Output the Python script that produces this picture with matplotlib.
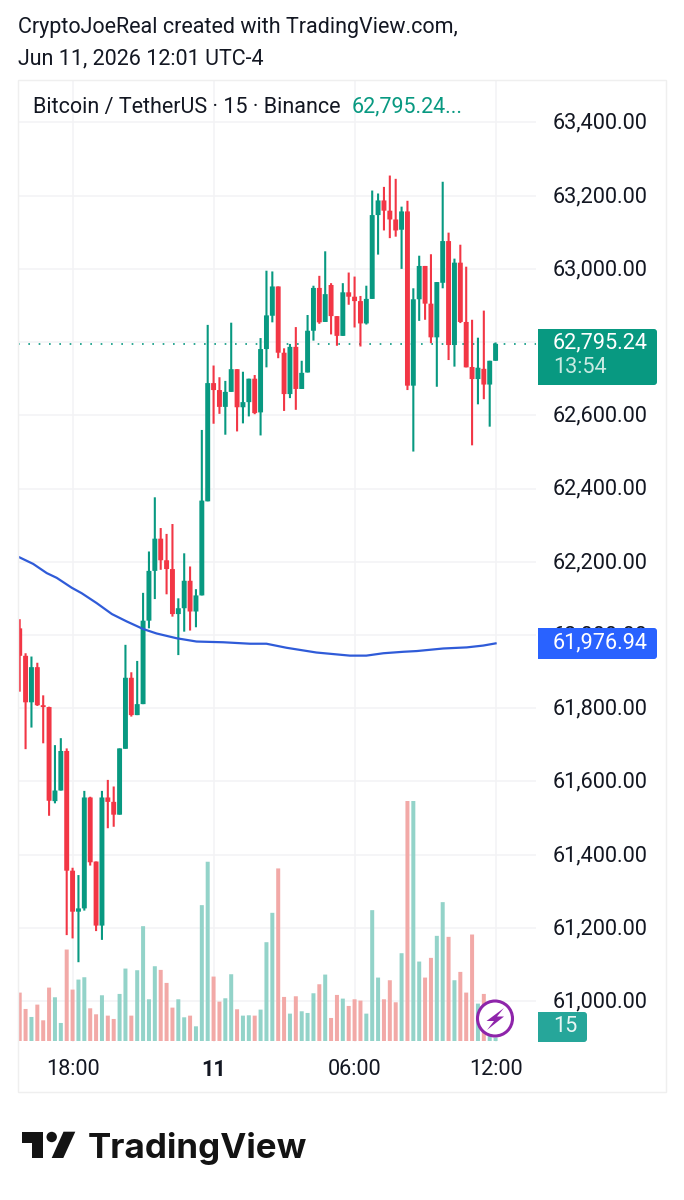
import matplotlib
matplotlib.use("Agg")
import matplotlib.pyplot as plt
from matplotlib.patches import Circle, FancyBboxPatch, Polygon, Rectangle
from matplotlib.transforms import ScaledTranslation

#%% Data (BTCUSDT 15 min)

opens = [62018, 61943, 61816, 61912, 61808, 61803, 61546, 61575, 61683, 61356,
         61244, 61253, 61556, 61381, 61206, 61556, 61544, 61509, 61689, 61883,
         61781, 61811, 62039, 62175, 62263, 62204, 62180, 62057, 62073, 62148,
         62064, 62108, 62365, 62688, 62669, 62623, 62664, 62726, 62622, 62636,
         62700, 62608, 62781, 62872, 62952, 62771, 62658, 62787, 62672, 62717,
         62831, 62948, 62855, 62956, 62871, 62817, 62936, 62924, 62912, 62851,
         62918, 63147, 63187, 63159, 63135, 63107, 63157, 62681, 62917, 63008,
         62905, 62813, 62962, 63076, 62792, 63017, 62855, 62732, 62699, 62727,
         62684, 62749]
highs = [62043, 61950, 61941, 61924, 61835, 61804, 61699, 61718, 61690, 61364,
         61344, 61574, 61558, 61381, 61574, 61604, 61586, 61690, 61973, 61898,
         61929, 62115, 62228, 62376, 62292, 62276, 62303, 62100, 62223, 62187,
         62125, 62560, 62847, 62736, 62704, 62694, 62853, 62726, 62719, 62700,
         62710, 62811, 62995, 62993, 62952, 62783, 62795, 62841, 62749, 62874,
         62954, 62981, 63048, 62961, 62871, 62961, 62990, 62979, 62926, 62954,
         63214, 63206, 63224, 63255, 63246, 63170, 63186, 62947, 63036, 63008,
         63040, 62964, 63238, 63099, 63028, 63066, 63006, 62861, 62812, 62886,
         62749, 62799]
lows = [61845, 61688, 61747, 61806, 61704, 61506, 61540, 61575, 61180, 61171,
        61106, 61247, 61370, 61191, 61167, 61472, 61476, 61509, 61689, 61777,
        61781, 61811, 62018, 62098, 62178, 62111, 62050, 61945, 62009, 62012,
        62021, 62108, 62365, 62577, 62604, 62547, 62664, 62556, 62578, 62597,
        62603, 62545, 62731, 62854, 62756, 62612, 62647, 62615, 62672, 62717,
        62804, 62850, 62855, 62821, 62790, 62817, 62902, 62840, 62788, 62848,
        62918, 63039, 63105, 63084, 63088, 63000, 62669, 62501, 62858, 62861,
        62797, 62678, 62947, 62751, 62733, 62852, 62731, 62518, 62630, 62644,
        62569, 62749]
closes = [61943, 61816, 61912, 61808, 61803, 61547, 61575, 61683, 61356, 61244,
          61253, 61556, 61379, 61206, 61556, 61544, 61509, 61690, 61883, 61781,
          61811, 62039, 62175, 62263, 62204, 62180, 62057, 62073, 62148, 62064,
          62108, 62367, 62688, 62669, 62623, 62664, 62726, 62622, 62636, 62700,
          62606, 62781, 62873, 62952, 62771, 62658, 62787, 62672, 62716, 62831,
          62948, 62854, 62931, 62871, 62817, 62936, 62924, 62912, 62851, 62918,
          63147, 63187, 63159, 63135, 63105, 63157, 62681, 62917, 63008, 62905,
          62813, 62964, 63076, 62792, 63017, 62855, 62731, 62699, 62730, 62684,
          62749, 62795.24]
volumes = [145, 96, 72, 109, 62, 160, 131, 54, 274, 154,
           184, 191, 98, 80, 137, 76, 66, 141, 217, 76,
           212, 344, 125, 224, 213, 174, 100, 125, 71, 76,
           44, 407, 537, 193, 118, 128, 200, 95, 76, 77,
           76, 94, 296, 384, 517, 132, 82, 134, 89, 84,
           143, 170, 199, 69, 138, 127, 105, 125, 121, 82,
           392, 190, 125, 182, 116, 263, 719, 719, 238, 190,
           249, 315, 416, 312, 182, 207, 145, 319, 112, 141,
           60, 10]

ma_index = [-0.3, 2.3, 4.6, 6.3, 8.85, 10.55, 13.1, 15.7, 18.2, 21.05, 23.3, 26.7,
            30.1, 34.65, 39.2, 42, 45.4, 50.5, 56.2, 59, 61.9, 65.3, 67.6, 72.1,
            76.1, 78.9, 81]
ma_values = [62214, 62194, 62169, 62156, 62129, 62114, 62087, 62057, 62037, 62016,
             62004, 61991, 61982, 61980, 61976, 61976, 61965, 61952, 61943.5,
             61943.5, 61950, 61954, 61956, 61963, 61966, 61971, 61976.94]

price_ticks = [61000, 61200, 61400, 61600, 61800, 62000, 62200,
               62400, 62600, 62800, 63000, 63200, 63400]
time_ticks = [9, 33, 57, 81]
time_labels = ["18:00", "11", "06:00", "12:00"]

last_price = 62795.24
ma_last = 61976.94

#%% Style

GREEN = "#089981"
RED = "#f23645"
VOL_GREEN = "#93d3c9"
VOL_RED = "#f2a9a7"
BLUE = "#2962ff"
MA_BLUE = "#2f5bd8"
GRID = "#f3f3f5"
TEXT = "#131722"
FS = 15.55

plt.rcParams["font.family"] = ["Roboto", "DejaVu Sans"]

W, H = 684, 1200
fig = plt.figure(figsize=(W / 100, H / 100), dpi=100, facecolor="white")


def px_axes(left, top, right, bottom, **kw):
    return fig.add_axes([left / W, 1 - bottom / H, (right - left) / W, (bottom - top) / H], **kw)


#%% Price pane

PX_PER_BAR = 5.875
xlim = ((18 - 19.7) / PX_PER_BAR, (536 - 19.7) / PX_PER_BAR)

ax = px_axes(18, 80, 536, 1042)
ax.set_xlim(xlim)
ax.set_ylim(60888, 63516)
ax.patch.set_alpha(0)
for s in ax.spines.values():
    s.set_visible(False)

ax.set_axisbelow(True)
ax.grid(True, color=GRID, lw=1.1)
ax.yaxis.tick_right()
ax.set_yticks(price_ticks)
ax.set_yticklabels([f"{p:,.2f}" for p in price_ticks], fontsize=FS, color=TEXT)
ax.tick_params(axis="y", length=0, pad=12.3)
ax.set_xticks(time_ticks)
ax.set_xticklabels(time_labels, fontsize=FS, color=TEXT)
ax.tick_params(axis="x", length=0, pad=12)
ax.get_xticklabels()[1].set_fontweight("bold")

# price labels sit a little above their grid line
up = ScaledTranslation(0, 1.6 / 100, fig.dpi_scale_trans)
for lab in ax.get_yticklabels():
    lab.set_transform(lab.get_transform() + up)

ax.axhline(last_price, color=GREEN, lw=1.2, ls=(0, (1, 5.2)), zorder=1)

idx = list(range(len(opens)))
colors = [GREEN if c >= o else RED for o, c in zip(opens, closes)]
ax.vlines(idx, lows, highs, colors=colors, lw=1.5, zorder=2, snap=False)
ax.bar(idx, [abs(c - o) for o, c in zip(opens, closes)],
       bottom=[min(o, c) for o, c in zip(opens, closes)],
       width=0.84, color=colors, zorder=3, snap=False)
ax.plot(ma_index, ma_values, color=MA_BLUE, lw=1.6, zorder=4)

#%% Volume bars, bottom of the pane

ax_vol = px_axes(18, 801, 536, 1041)
ax_vol.set_xlim(xlim)
ax_vol.set_ylim(0, 719)
ax_vol.axis("off")
ax_vol.patch.set_alpha(0)
vol_colors = [VOL_GREEN if c == GREEN else VOL_RED for c in colors]
ax_vol.bar(idx, volumes, width=0.68, color=vol_colors, snap=False)

#%% Overlay in pixels: frame, tags, header, logo

ov = fig.add_axes([0, 0, 1, 1], zorder=5)
ov.set_xlim(0, W)
ov.set_ylim(H, 0)
ov.axis("off")
ov.patch.set_alpha(0)

ov.add_patch(Rectangle((18, 80), 648, 1012, fill=False, ec="#efefef", lw=1))


def tag(y0, y1, x1, color):
    ov.add_patch(FancyBboxPatch((538 + 3, y0 + 2), x1 - 538 - 5, y1 - y0 - 4,
                                boxstyle="round,pad=2,rounding_size=3", fc=color, ec="none"))
    ov.add_patch(Rectangle((538, y0), 8, y1 - y0, fc=color, ec="none"))


tag(329, 385, 657, GREEN)
ov.text(553, 343, f"{last_price:,.2f}", fontsize=FS, color="white", va="center")
ov.text(553, 367.5, "13:54", fontsize=FS, color="#c9eae2", va="center")

tag(628, 659, 657, BLUE)
ov.text(553, 643, f"{ma_last:,.2f}", fontsize=FS, color="white", va="center")

tag(1012, 1042, 587, "#26a69a")
ov.text(565, 1027, "15", fontsize=FS, color="#e8f6f4", va="center", ha="center")

# lightning badge
ov.add_patch(Circle((495, 1018.5), 17.5, fc="white", ec="#8e24aa", lw=2.2))
ov.add_patch(Polygon([(504, 1008), (486.5, 1021), (494, 1021), (487, 1030),
                      (504, 1016.5), (497, 1016.5)], fc="#8e24aa", ec="none"))

ov.text(18, 28, "CryptoJoeReal created with TradingView.com,", fontsize=15.5, color=TEXT, va="center")
ov.text(18, 59, "Jun 11, 2026 12:01 UTC-4", fontsize=15.5, color=TEXT, va="center")
ov.text(33, 107, "Bitcoin / TetherUS · 15 · Binance", fontsize=15.5, color=TEXT, va="center")
ov.text(352, 107, "62,795.24...", fontsize=15.5, color=GREEN, va="center")

# TradingView logo
LOGO = "#131313"
ov.add_patch(Polygon([(21.7, 1131.7), (43.3, 1131.7), (43.3, 1158), (32.3, 1158),
                      (32.3, 1143), (21.7, 1143)], fc=LOGO, ec="none"))
ov.add_patch(Circle((51.7, 1137), 5.2, fc=LOGO, ec="none"))
ov.add_patch(Polygon([(63.5, 1131.7), (75.3, 1131.7), (63.3, 1158), (51.7, 1158)], fc=LOGO, ec="none"))
ov.text(88, 1158, "TradingView", fontsize=25.2, fontweight="bold", family="Inter", color=LOGO, va="baseline")

fig.savefig("out.png", dpi=100, facecolor="white")
